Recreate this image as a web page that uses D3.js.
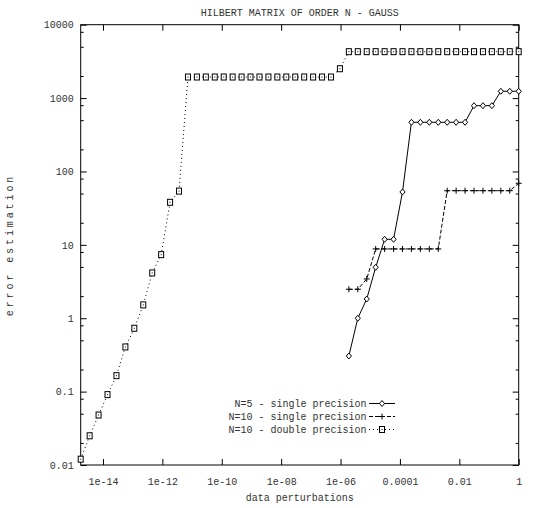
<!DOCTYPE html>
<html>
<head>
  <meta charset="UTF-8">
  <style>
    body { margin: 0; background: #fff; }
    text { font-family: "Liberation Mono", "Courier New", monospace; font-size: 10px; fill: #333; }
    .axis path { display: none; }
    .axis line { stroke: #000; stroke-width: 1; }
  </style>
</head>
<body>
<svg></svg>
<script src="https://d3js.org/d3.v7.min.js"></script>
<script>
let width = 533, height = 508;

// perturbation = 2^-k, k listed per point
var diamondExp = [19,18,17,16,15,14,13,12,11,10,9,8,7,6,5,4,3,2,1,0];
var diamondVal = [0.306,1.0,1.83,4.95,11.9,11.9,52.6,468,468,468,468,468,468,468,788,788,788,1238,1238,1238];

var plusExp = [19,18,17,16,15,14,13,12,11,10,9,8,7,6,5,4,3,2,1,0];
var plusVal = [2.48,2.48,3.43,8.8,8.8,8.8,8.8,8.8,8.8,8.8,8.8,54.7,54.7,54.7,54.7,54.7,54.7,54.7,54.7,69];

var squareExp = [49,48,47,46,45,44,43,42,41,40,39,38,37,36,35,34,33,32,31,30,29,28,27,26,25,24,23,22,21,20,
                 19,18,17,16,15,14,13,12,11,10,9,8,7,6,5,4,3,2,1,0];
var squareVal = [0.012,0.025,0.048,0.091,0.165,0.406,0.73,1.52,4.14,7.35,38,54,
                 1937,1937,1937,1937,1937,1937,1937,1937,1937,1937,1937,1937,1937,1937,1937,1937,1937,
                 2512,
                 4290,4290,4290,4290,4290,4290,4290,4290,4290,4290,4290,4290,4290,4290,4290,4290,4290,4290,4290,4290];

var xTicks = [1e-14,1e-12,1e-10,1e-8,1e-6,1e-4,1e-2,1];
var xTickLabels = ["1e-14","1e-12","1e-10","1e-08","1e-06","0.0001","0.01","1"];
var yTicks = [0.01,0.1,1,10,100,1000,10000];
var yTickLabels = ["0.01","0.1","1","10","100","1000","10000"];
var yMinorMult = [2,5,8];

var legendLabels = ["N=5 - single precision","N=10 - single precision","N=10 - double precision"];

let svg = d3.select("svg").attr("width", width).attr("height", height);

let pLeft = 80.7, pRight = 518.7, pTop = 24.7, pBottom = 465;

var x = d3.scaleLog().domain([Math.pow(2,-49), 1]).range([pLeft, pRight]);
var y = d3.scaleLog().domain([0.01, 10000]).range([pBottom, pTop]);

var yMinor = [];
yTicks.forEach(t => yMinorMult.forEach(m => { if (t*m < 10000) yMinor.push(t*m); }));

// axes (ticks point inward like gnuplot)
svg.append("g").attr("class","axis").attr("transform","translate(0,"+pBottom+")")
  .call(d3.axisBottom(x).tickValues(xTicks).tickSize(-6).tickSizeOuter(0).tickPadding(13)
    .tickFormat((d,i) => xTickLabels[i]));
svg.append("g").attr("class","axis").attr("transform","translate(0,"+pTop+")")
  .call(d3.axisTop(x).tickValues(xTicks).tickSize(-6).tickSizeOuter(0).tickFormat(""));
svg.append("g").attr("class","axis").attr("transform","translate("+pLeft+",0)")
  .call(d3.axisLeft(y).tickValues(yTicks).tickSize(-6).tickSizeOuter(0).tickPadding(7)
    .tickFormat((d,i) => yTickLabels[i]));
svg.append("g").attr("class","axis").attr("transform","translate("+pLeft+",0)")
  .call(d3.axisLeft(y).tickValues(yMinor).tickSize(-3).tickSizeOuter(0).tickFormat(""));
svg.append("g").attr("class","axis").attr("transform","translate("+pRight+",0)")
  .call(d3.axisRight(y).tickValues(yTicks).tickSize(-6).tickSizeOuter(0).tickFormat(""));
svg.append("g").attr("class","axis").attr("transform","translate("+pRight+",0)")
  .call(d3.axisRight(y).tickValues(yMinor).tickSize(-3).tickSizeOuter(0).tickFormat(""));
svg.selectAll(".axis").attr("font-family",null).attr("font-size",null);
svg.selectAll(".axis text").attr("fill","#333");

svg.append("rect").attr("x",pLeft).attr("y",pTop).attr("width",pRight-pLeft).attr("height",pBottom-pTop)
  .attr("fill","none").attr("stroke","#000");

// titles
svg.append("text").attr("x",(pLeft+pRight)/2).attr("y",12).attr("dy","0.35em")
  .attr("text-anchor","middle").text("HILBERT MATRIX OF ORDER N - GAUSS");
svg.append("text").attr("x",(pLeft+pRight)/2).attr("y",497).attr("dy","0.35em")
  .attr("text-anchor","middle").text("data perturbations");
svg.append("text").attr("transform","translate(9,245) rotate(-90)").attr("dy","0.35em")
  .attr("text-anchor","middle").style("letter-spacing","2.9px").text("error estimation");

// markers
function marker(g, type, cx, cy) {
  if (type == "diamond") {
    g.append("path").attr("d","M"+cx+","+(cy-3)+"L"+(cx+2.6)+","+cy+"L"+cx+","+(cy+3)+"L"+(cx-2.6)+","+cy+"Z")
      .attr("fill","#fff").attr("stroke","#000");
  } else if (type == "plus") {
    g.append("path").attr("d","M"+(cx-3)+","+cy+"H"+(cx+3)+"M"+cx+","+(cy-3)+"V"+(cy+3))
      .attr("stroke","#000");
  } else {
    g.append("rect").attr("x",cx-2.5).attr("y",cy-3).attr("width",5).attr("height",6)
      .attr("fill","#fff").attr("stroke","#000");
    g.append("rect").attr("x",cx-0.5).attr("y",cy-0.5).attr("width",1).attr("height",1).attr("fill","#000");
  }
}

var series = [
  {exp: diamondExp, val: diamondVal, type: "diamond", dash: null},
  {exp: plusExp, val: plusVal, type: "plus", dash: "4,2"},
  {exp: squareExp, val: squareVal, type: "square", dash: "1,3"}
];

let line = d3.line().x(d => x(d[0])).y(d => y(d[1]));

series.forEach((s, si) => {
  var pts = s.exp.map((k, i) => [Math.pow(2, -k), s.val[i]]);
  var g = svg.append("g");
  g.append("path").datum(pts).attr("d", line).attr("fill","none").attr("stroke","#000")
    .attr("stroke-width",1).attr("stroke-dasharray", s.dash);
  pts.forEach(p => marker(g, s.type, x(p[0]), y(p[1])));

  // legend row
  var ly = 403.5 + si*13;
  svg.append("text").attr("x",366.5).attr("y",ly).attr("dy","0.35em").attr("text-anchor","end").text(legendLabels[si]);
  var lg = svg.append("g");
  lg.append("line").attr("x1",369).attr("x2",395).attr("y1",ly).attr("y2",ly)
    .attr("stroke","#000").attr("stroke-dasharray", s.dash);
  marker(lg, s.type, 382, ly);
});
</script>
</body>
</html>
